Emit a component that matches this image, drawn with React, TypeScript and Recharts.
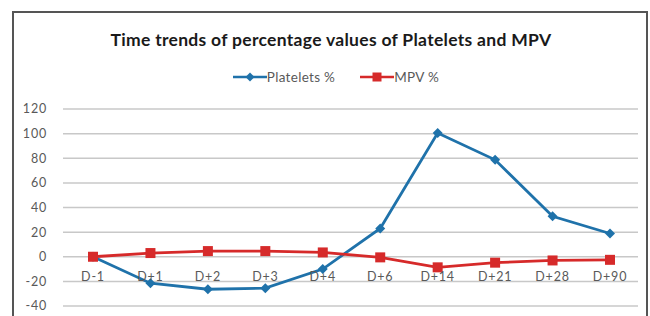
import { LineChart, Line, XAxis, YAxis, CartesianGrid, Legend } from "recharts";

const DAYS = ["D-1", "D+1", "D+2", "D+3", "D+4", "D+6", "D+14", "D+21", "D+28", "D+90"];
const PLATELETS = [0, -21.5, -26.4, -25.5, -10, 23, 100.5, 78.7, 32.9, 18.9];
const MPV = [0, 3, 4.6, 4.6, 3.5, -0.5, -8.6, -4.8, -3, -2.5];
const Y_TICKS = [-40, -20, 0, 20, 40, 60, 80, 100, 120];

const BLUE = "#1f72aa";
const RED = "#d62a2a";
const FONT = "Lato, 'Open Sans', sans-serif";

const data = DAYS.map((d, i) => ({ day: d, platelets: PLATELETS[i], mpv: MPV[i] }));

const Diamond = ({ cx, cy }: any) => {
  if (cx == null || cy == null) return null;
  const r = 5;
  return <path d={`M${cx},${cy - r}L${cx + r},${cy}L${cx},${cy + r}L${cx - r},${cy}Z`} fill={BLUE} />;
};

const Square = ({ cx, cy }: any) => {
  if (cx == null || cy == null) return null;
  const s = 10;
  return <rect x={cx - s / 2} y={cy - s / 2} width={s} height={s} fill={RED} />;
};

// x labels sit just under the zero line, not at the bottom of the plot
const DayTick = ({ x, y, payload }: any) => (
  <text x={x} y={y - 33} textAnchor="middle" fill="#595959" fontSize={12.5} letterSpacing={0.8} fontFamily={FONT}>
    {payload.value}
  </text>
);

const LegendContent = () => (
  <div style={{ display: "flex", justifyContent: "center", gap: 25, fontFamily: FONT, fontSize: 13.5, letterSpacing: 0.3, color: "#595959" }}>
    <div style={{ display: "flex", alignItems: "center" }}>
      <svg width={34} height={12}>
        <line x1={0} y1={6} x2={34} y2={6} stroke={BLUE} strokeWidth={2.5} />
        <path d="M17,1.5L21.5,6L17,10.5L12.5,6Z" fill={BLUE} />
      </svg>
      <span>Platelets %</span>
    </div>
    <div style={{ display: "flex", alignItems: "center" }}>
      <svg width={34} height={12}>
        <line x1={0} y1={6} x2={34} y2={6} stroke={RED} strokeWidth={2.5} />
        <rect x={12.5} y={1.5} width={9} height={9} fill={RED} />
      </svg>
      <span>MPV %</span>
    </div>
  </div>
);

export default function App() {
  return (
    <div style={{ position: "absolute", left: 0, top: 0, width: 650, height: 316, background: "#fff", overflow: "hidden" }}>
      <div style={{
        position: "absolute", left: 12, top: 11, width: 636, height: 330,
        border: "2px solid #555", boxSizing: "border-box",
      }} />
      <div style={{
        position: "absolute", left: 0, top: 29, width: 662, textAlign: "center",
        fontFamily: FONT, fontWeight: 700, fontSize: 17.5, letterSpacing: 0.3, color: "#1a1a1a",
      }}>
        Time trends of percentage values of Platelets and MPV
      </div>
      <LineChart width={650} height={316} data={data} margin={{ top: 109, right: 12, bottom: 9, left: 0 }}>
        <CartesianGrid vertical={false} stroke="#c8c8c8" strokeWidth={1.5} />
        <XAxis
          dataKey="day"
          axisLine={false}
          tickLine={false}
          height={1}
          tick={<DayTick />}
          interval={0}
          padding={{ left: 30, right: 28 }}
        />
        <YAxis
          domain={[-40, 120]}
          ticks={Y_TICKS}
          width={63}
          axisLine={false}
          tickLine={false}
          tickMargin={10}
          tick={{ fill: "#595959", fontSize: 12.5, letterSpacing: 0.8, fontFamily: FONT }}
        />
        <Legend
          verticalAlign="middle"
          align="center"
          content={<LegendContent />}
          wrapperStyle={{ top: 69, left: 0, width: 672 }}
        />
        <Line dataKey="platelets" name="Platelets %" stroke={BLUE} strokeWidth={2.8} dot={<Diamond />} isAnimationActive={false} />
        <Line dataKey="mpv" name="MPV %" stroke={RED} strokeWidth={2.8} dot={<Square />} isAnimationActive={false} />
      </LineChart>
    </div>
  );
}
